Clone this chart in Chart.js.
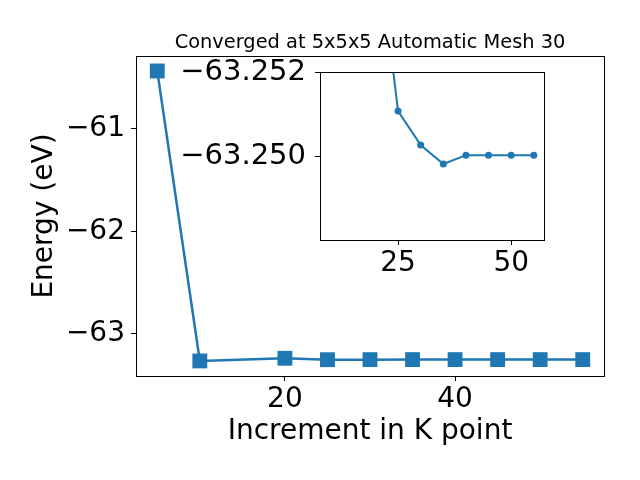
<!DOCTYPE html>
<html>
<head>
<meta charset="utf-8">
<script src="https://cdn.jsdelivr.net/npm/chart.js@4/dist/chart.umd.min.js"></script>
<style>
  body { margin: 0; background: #fff; }
  #wrap { position: relative; width: 640px; height: 480px; }
  #mainChart { position: absolute; left: 0; top: 0; }
  #insetChart { position: absolute; left: 160px; top: 40px; }
</style>
</head>
<body>
<div id="wrap">
  <canvas id="mainChart" width="640" height="480"></canvas>
  <canvas id="insetChart" width="400" height="245"></canvas>
</div>
<script>
// data
const kPoints = [5, 10, 20, 25, 30, 35, 40, 45, 50, 55];
const energy = [-60.434, -63.263, -63.237, -63.2511, -63.2503, -63.2498, -63.25, -63.25, -63.25, -63.25];
const mainXTicks = [20, 40];
const mainYTicks = [-61, -62, -63];

const insetK = [10, 20, 25, 30, 35, 40, 45, 50, 55];
const insetEnergy = [-63.263, -63.2555, -63.25107, -63.25026, -63.24981, -63.25002, -63.25002, -63.25002, -63.25002];
const insetXTicks = [25, 50];
const insetYTicks = [-63.252, -63.250];

const titleText = 'Converged at 5x5x5 Automatic Mesh 30';

const blue = '#1f77b4';
const font = "'DejaVu Sans', sans-serif";

function minus(s) { return String(s).replace('-', '\u2212'); }

// white background + black frame around the plot area, optional title centred on it
const framePlugin = {
    id: 'frame',
    beforeDatasetsDraw(chart, args, opts) {
        const a = chart.chartArea;
        if (opts.fill) {
            const ctx = chart.ctx;
            ctx.save();
            ctx.fillStyle = '#fff';
            ctx.fillRect(a.left, a.top, a.right - a.left, a.bottom - a.top);
            ctx.restore();
        }
    },
    afterDraw(chart, args, opts) {
        const a = chart.chartArea;
        const ctx = chart.ctx;
        ctx.save();
        ctx.strokeStyle = '#000';
        ctx.lineWidth = 1;
        ctx.strokeRect(Math.round(a.left) + 0.5, Math.round(a.top) + 0.5,
            Math.round(a.right - a.left), Math.round(a.bottom - a.top));
        if (opts.title) {
            ctx.fillStyle = '#000';
            ctx.font = '19.4px ' + font;
            ctx.textAlign = 'center';
            ctx.textBaseline = 'alphabetic';
            ctx.fillText(opts.title, (a.left + a.right) / 2, a.top - 8);
        }
        ctx.restore();
    }
};

function fixedTicks(list) {
    return function(scale) { scale.ticks = list.map(v => ({ value: v })); };
}

new Chart(document.getElementById('mainChart'), {
    type: 'line',
    data: {
        datasets: [{
            data: kPoints.map((k, i) => ({ x: k, y: energy[i] })),
            borderColor: blue,
            backgroundColor: blue,
            borderWidth: 2.5,
            pointStyle: 'rect',
            pointRadius: 10.5,
            pointBorderWidth: 0,
            tension: 0
        }]
    },
    options: {
        responsive: false,
        animation: false,
        devicePixelRatio: 1,
        layout: { padding: { left: 0, right: 36, top: 56, bottom: 0 } },
        plugins: {
            legend: { display: false },
            tooltip: { enabled: false },
            title: { display: false },
            frame: { fill: false, title: titleText }
        },
        scales: {
            x: {
                type: 'linear',
                min: 2.5, max: 57.5,
                afterBuildTicks: fixedTicks(mainXTicks),
                afterFit: s => { s.height = 104; },
                border: { display: false },
                grid: { drawOnChartArea: false, tickLength: 5, color: '#000' },
                ticks: { color: '#000', font: { family: font, size: 28 }, padding: 2 },
                title: {
                    display: true, text: 'Increment in K point', color: '#000',
                    font: { family: font, size: 28 }, padding: { top: 0, bottom: 31 }
                }
            },
            y: {
                type: 'linear',
                min: -63.41, max: -60.288,
                afterBuildTicks: fixedTicks(mainYTicks),
                afterFit: s => { s.width = 136; },
                border: { display: false },
                grid: { drawOnChartArea: false, tickLength: 5, color: '#000' },
                ticks: {
                    color: '#000', font: { family: font, size: 28 }, padding: 6,
                    callback: v => minus(v)
                },
                title: {
                    display: true, text: 'Energy (eV)', color: '#000',
                    font: { family: font, size: 28 }, padding: { top: 28, bottom: 0 }
                }
            }
        }
    },
    plugins: [framePlugin]
});

new Chart(document.getElementById('insetChart'), {
    type: 'line',
    data: {
        datasets: [{
            data: insetK.map((k, i) => ({ x: k, y: insetEnergy[i] })),
            borderColor: blue,
            backgroundColor: blue,
            borderWidth: 2,
            pointStyle: 'circle',
            pointRadius: 3.5,
            pointBorderWidth: 0,
            tension: 0
        }]
    },
    options: {
        responsive: false,
        animation: false,
        devicePixelRatio: 1,
        layout: { padding: { left: 0, right: 16, top: 32, bottom: 0 } },
        plugins: {
            legend: { display: false },
            tooltip: { enabled: false },
            frame: { fill: true }
        },
        scales: {
            x: {
                type: 'linear',
                min: 7.75, max: 57.25,
                afterBuildTicks: fixedTicks(insetXTicks),
                afterFit: s => { s.height = 45; },
                border: { display: false },
                grid: { drawOnChartArea: false, tickLength: 5, color: '#000' },
                ticks: { color: '#000', font: { family: font, size: 28 }, padding: 2 }
            },
            y: {
                type: 'linear',
                reverse: true,
                min: -63.252, max: -63.248,
                afterBuildTicks: fixedTicks(insetYTicks),
                afterFit: s => { s.width = 160; },
                border: { display: false },
                grid: { drawOnChartArea: false, tickLength: 5, color: '#000' },
                ticks: {
                    color: '#000', font: { family: font, size: 29 }, padding: 9,
                    callback: v => minus(v.toFixed(3))
                }
            }
        }
    },
    plugins: [framePlugin]
});
</script>
</body>
</html>
